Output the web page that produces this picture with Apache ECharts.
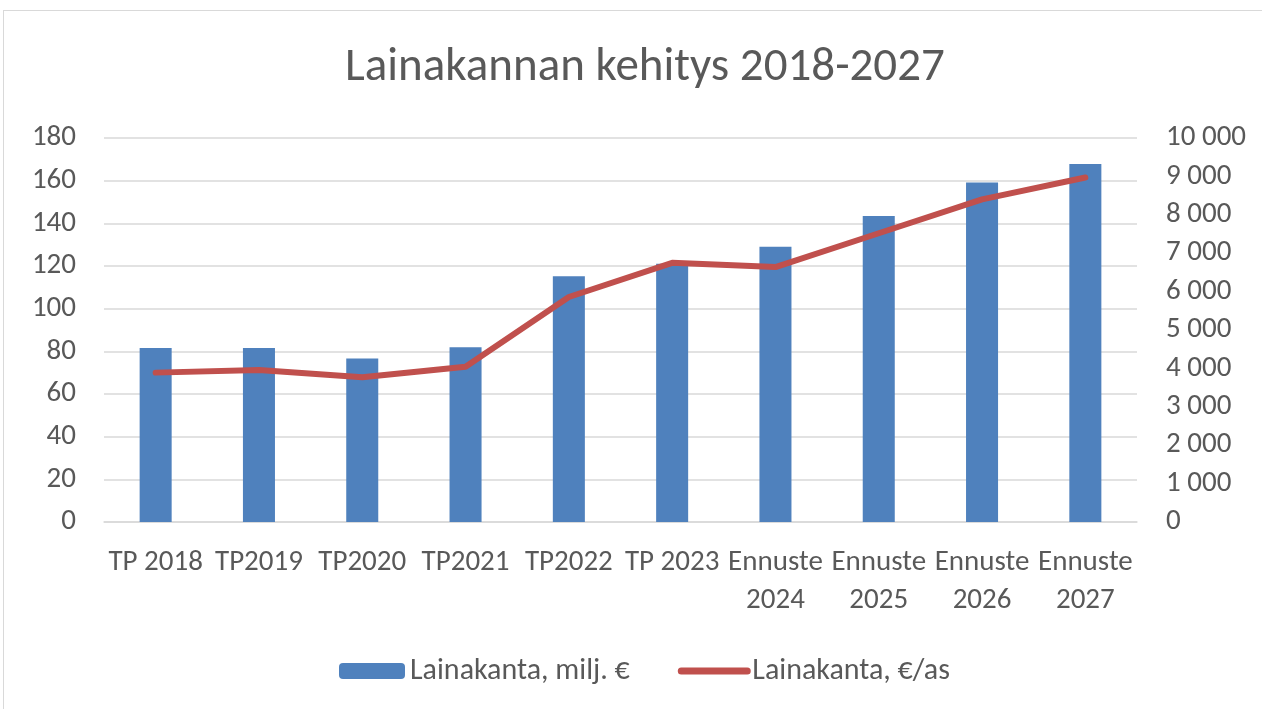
<!DOCTYPE html>
<html><head><meta charset="utf-8">
<script src="https://cdn.jsdelivr.net/npm/echarts@6/dist/echarts.min.js"></script>
<style>
html,body{margin:0;padding:0;background:#fff;}
#frame{position:absolute;left:3px;top:10px;width:1280px;height:720px;border:1px solid #d9d9d9;}
#c{position:absolute;left:0;top:0;width:1262px;height:709px;}
</style></head>
<body>
<div id="frame"></div>
<div id="c"></div>
<script>
const categories = ['TP 2018','TP2019','TP2020','TP2021','TP2022','TP 2023','Ennuste\n2024','Ennuste\n2025','Ennuste\n2026','Ennuste\n2027'];
const loansMillion = [81.6, 81.6, 76.6, 81.9, 115.2, 121.0, 129.0, 143.4, 159.1, 167.8];
const loansPerCapita = [3890, 3960, 3770, 4045, 5860, 6750, 6640, 7520, 8400, 8970];
const seriesNames = ['Lainakanta, milj. €', 'Lainakanta, €/as'];
const titleText = 'Lainakannan kehitys 2018-2027';

const FONT = "Carlito, 'Liberation Sans Narrow', 'DejaVu Sans Condensed', sans-serif";
const chart = echarts.init(document.getElementById('c'), null, {renderer:'canvas'});
chart.setOption({
  backgroundColor: 'transparent',
  animation: false,
  textStyle: {fontFamily: FONT},
  title: {text: titleText, left: 340, top: 40,
    textStyle: {fontFamily: FONT, fontSize: 47, fontWeight: 'normal', color: '#595959'}},
  grid: {left: 104, right: 125, top: 138, bottom: 187, containLabel: false},
  legend: {top: 651, left: 334, itemGap: 48, itemWidth: 66, itemHeight: 16,
    textStyle: {fontFamily: FONT, fontSize: 30, color: '#595959'},
    data: [
      {name: seriesNames[0]},
      {name: seriesNames[1], itemStyle: {opacity: 0}, lineStyle: {width: 7, cap: 'round', color: '#C0504D'}}
    ]},
  xAxis: {type: 'category', data: categories,
    axisLine: {lineStyle: {color: '#d9d9d9', width: 1.5}}, axisTick: {show: false},
    axisLabel: {fontFamily: FONT, fontSize: 29, color: '#595959', margin: 22, lineHeight: 38, interval: 0}},
  yAxis: [
    {type: 'value', min: 0, max: 180, interval: 20,
      axisLine: {show: false}, axisTick: {show: false},
      splitLine: {lineStyle: {color: '#d9d9d9', width: 1.5}},
      axisLabel: {fontFamily: FONT, fontSize: 29, color: '#595959', margin: 28}},
    {type: 'value', min: 0, max: 10000, interval: 1000,
      axisLine: {show: false}, axisTick: {show: false}, splitLine: {show: false},
      axisLabel: {fontFamily: FONT, fontSize: 29, color: '#595959', margin: 29,
        formatter: v => String(v).replace(/\B(?=(\d{3})+(?!\d))/g, ' ')}}
  ],
  series: [
    {name: seriesNames[0], type: 'bar', data: loansMillion, barWidth: '31%',
      itemStyle: {color: '#4F81BD'}},
    {name: seriesNames[1], type: 'line', yAxisIndex: 1, data: loansPerCapita,
      symbol: 'none', lineStyle: {color: '#C0504D', width: 6, cap: 'round', join: 'round'},
      itemStyle: {color: '#C0504D'}}
  ]
});
</script>
</body></html>
